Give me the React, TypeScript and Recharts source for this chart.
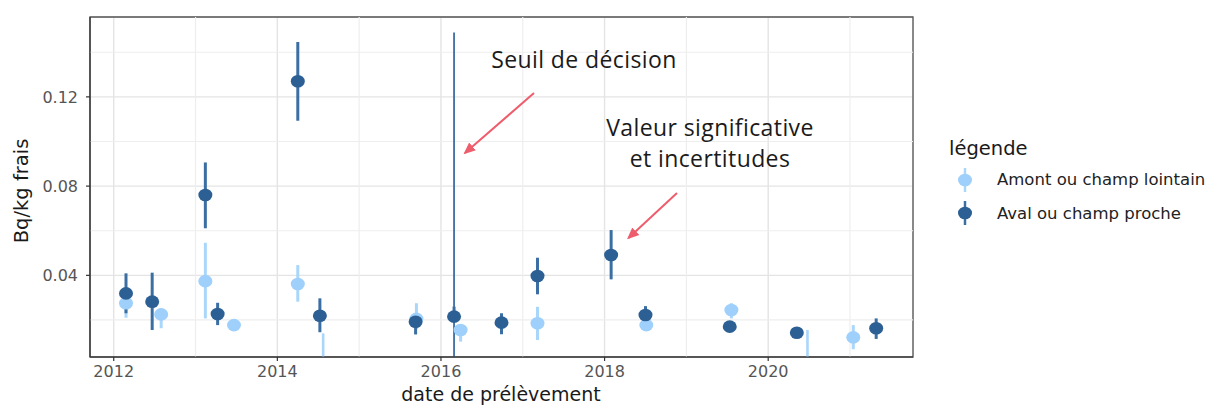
import React from 'react'
import {
  ComposedChart,
  Scatter,
  ErrorBar,
  XAxis,
  YAxis,
  CartesianGrid,
  ReferenceLine,
  ReferenceArea,
  Legend,
} from 'recharts'

// Amont ou champ lointain (valeurs significatives)
const amontDates = [2012.15, 2012.58, 2013.12, 2013.47, 2014.25, 2015.7, 2016.24, 2017.18, 2018.51, 2019.55, 2021.04]
const amontValues = [0.0275, 0.0225, 0.0374, 0.0177, 0.0361, 0.0205, 0.0155, 0.0185, 0.0177, 0.0245, 0.0122]
const amontLow = [0.021, 0.0163, 0.0207, 0.0162, 0.0282, 0.016, 0.0103, 0.011, 0.0162, 0.0207, 0.0069]
const amontHigh = [0.0335, 0.0252, 0.0546, 0.019, 0.0446, 0.0275, 0.017, 0.0259, 0.0192, 0.0275, 0.0177]

// Aval ou champ proche (valeurs significatives)
const avalDates = [2012.15, 2012.47, 2013.12, 2013.27, 2014.25, 2014.52, 2015.69, 2016.16, 2016.74, 2017.18, 2018.08, 2018.5, 2019.53, 2020.35, 2021.32]
const avalValues = [0.0319, 0.0282, 0.076, 0.0227, 0.127, 0.0219, 0.0192, 0.0215, 0.0188, 0.0397, 0.0491, 0.0222, 0.017, 0.0143, 0.0163]
const avalLow = [0.023, 0.0155, 0.0611, 0.0177, 0.1093, 0.0145, 0.0135, 0.0195, 0.0136, 0.0315, 0.0382, 0.0195, 0.015, 0.013, 0.0115]
const avalHigh = [0.0409, 0.0412, 0.0906, 0.0277, 0.1446, 0.0297, 0.0225, 0.026, 0.023, 0.0479, 0.0603, 0.0262, 0.019, 0.016, 0.0207]

// seuils de décision (résultats non significatifs, trait de 0 au seuil)
const seuilAmontDates = [2014.56, 2020.48]
const seuilAmontValues = [0.014, 0.0155]
const seuilAvalDates = [2016.16]
const seuilAvalValues = [0.1488]

const xTicks = [2012, 2014, 2016, 2018, 2020]
const xMinor = [2013, 2015, 2017, 2019, 2021]
const yTicks = [0.04, 0.08, 0.12]
const yMinor = [0.02, 0.06, 0.1, 0.14]
const xDomain = [2011.71, 2021.77]
const yDomain = [0.0034, 0.1558]

const seriesNames = ['Amont ou champ lointain', 'Aval ou champ proche']

const lightBlue = '#9fd0fb'
const lightBlueBar = '#a9d6fb'
const darkBlue = '#2c5f93'
const darkBlueBar = '#3b6ea3'
const arrowRed = '#ee5d6c'
const sans = 'DejaVu Sans, sans-serif'

const toRows = (dates: number[], values: number[], low: number[], high: number[]) =>
  dates.map((d, i) => ({
    date: d,
    value: values[i],
    err: [values[i] - low[i], high[i] - values[i]],
  }))

const amontData = toRows(amontDates, amontValues, amontLow, amontHigh)
const avalData = toRows(avalDates, avalValues, avalLow, avalHigh)

const Dot = ({ cx, cy, fill }: any) => {
  if (cx == null || cy == null) return null
  return <ellipse cx={cx} cy={cy} rx={7} ry={6.3} fill={fill} />
}

const LegendBox = () => {
  const colors = [[lightBlue, lightBlueBar], [darkBlue, darkBlueBar]]
  return (
    <div style={{ fontFamily: sans, color: '#1a1a1a' }}>
      <div style={{ fontSize: 19.5, height: 28, lineHeight: '28px' }}>légende</div>
      {seriesNames.map((name, i) => (
        <div key={name} style={{ display: 'flex', alignItems: 'center', height: 33.4 }}>
          <svg width={34} height={30}>
            <line x1={16} x2={16} y1={3} y2={27} stroke={colors[i][1]} strokeWidth={2.5} />
            <ellipse cx={16} cy={15} rx={7} ry={6.3} fill={colors[i][0]} />
          </svg>
          <span style={{ fontSize: 16.5, marginLeft: 14, color: '#222', whiteSpace: 'nowrap' }}>{name}</span>
        </div>
      ))}
    </div>
  )
}

export default function App() {
  const tickStyle = { fill: '#555', fontSize: 16, fontFamily: sans }
  return (
    <div style={{ position: 'absolute', left: 0, top: 0, width: 1209, height: 405, background: '#fff' }}>
      <ComposedChart
        width={1209}
        height={405}
        margin={{ top: 17, right: 296, bottom: 8, left: 30 }}
      >
        <CartesianGrid stroke="#e4e4e4" strokeWidth={1.4} />
        {xMinor.map((x) => (
          <ReferenceLine key={`vx${x}`} x={x} stroke="#eeeeee" strokeWidth={1.2} />
        ))}
        {yMinor.map((y) => (
          <ReferenceLine key={`hy${y}`} y={y} stroke="#eeeeee" strokeWidth={1.2} />
        ))}
        <XAxis
          type="number"
          dataKey="date"
          domain={xDomain}
          ticks={xTicks}
          allowDataOverflow
          height={40}
          tick={tickStyle}
          tickSize={4}
          tickMargin={5}
          axisLine={{ stroke: '#333', strokeWidth: 1.2 }}
          tickLine={{ stroke: '#333', strokeWidth: 1.2 }}
        />
        <YAxis
          type="number"
          dataKey="value"
          domain={yDomain}
          ticks={yTicks}
          allowDataOverflow
          width={60}
          tick={tickStyle}
          tickSize={4}
          tickMargin={8}
          tickFormatter={(v: number) => v.toFixed(2)}
          axisLine={{ stroke: '#333', strokeWidth: 1.2 }}
          tickLine={{ stroke: '#333', strokeWidth: 1.2 }}
        />
        <ReferenceArea
          x1={xDomain[0]}
          x2={xDomain[1]}
          y1={yDomain[0]}
          y2={yDomain[1]}
          fill="none"
          fillOpacity={0}
          stroke="#555"
          strokeWidth={1.3}
        />
        {seuilAmontDates.map((d, i) => (
          <ReferenceLine
            key={`sa${d}`}
            segment={[{ x: d, y: 0 }, { x: d, y: seuilAmontValues[i] }]}
            stroke={lightBlueBar}
            strokeWidth={2.6}
            ifOverflow="hidden"
          />
        ))}
        <Scatter
          name={seriesNames[0]}
          data={amontData}
          shape={<Dot fill={lightBlue} />}
          isAnimationActive={false}
        >
          <ErrorBar dataKey="err" direction="y" width={0} stroke={lightBlueBar} strokeWidth={3} />
        </Scatter>
        <Scatter
          name={seriesNames[1]}
          data={avalData}
          shape={<Dot fill={darkBlue} />}
          isAnimationActive={false}
        >
          <ErrorBar dataKey="err" direction="y" width={0} stroke={darkBlueBar} strokeWidth={3} />
        </Scatter>
        {seuilAvalDates.map((d, i) => (
          <ReferenceLine
            key={`sv${d}`}
            segment={[{ x: d, y: 0 }, { x: d, y: seuilAvalValues[i] }]}
            stroke={darkBlueBar}
            strokeWidth={1.8}
            ifOverflow="hidden"
          />
        ))}
        <Legend
          layout="horizontal"
          align="center"
          verticalAlign="middle"
          content={<LegendBox />}
          wrapperStyle={{ position: 'absolute', left: 949, top: 135, width: 260, height: 100 }}
        />
      </ComposedChart>
      <svg
        width={1209}
        height={405}
        style={{ position: 'absolute', left: 0, top: 0, pointerEvents: 'none' }}
      >
        <defs>
          <marker id="head" markerWidth="6" markerHeight="6" refX="5" refY="3" orient="auto" markerUnits="strokeWidth">
            <path d="M0,0.4 L6,3 L0,5.6 Z" fill={arrowRed} />
          </marker>
        </defs>
        <g fontFamily="Open Sans, sans-serif" fill="#1a1a1a" fontSize={23} letterSpacing={0.4} textAnchor="middle">
          <text x={584} y={68}>Seuil de décision</text>
          <text x={710} y={136}>Valeur significative</text>
          <text x={710} y={167}>et incertitudes</text>
        </g>
        <line x1={534} y1={93} x2={465} y2={153} stroke={arrowRed} strokeWidth={2} markerEnd="url(#head)" />
        <line x1={677} y1={193} x2={628.5} y2={238} stroke={arrowRed} strokeWidth={2} markerEnd="url(#head)" />
        <text
          x={21}
          y={191}
          transform="rotate(-90 21 191)"
          textAnchor="middle"
          dominantBaseline="central"
          fontFamily={sans}
          fontSize={19.5}
          fill="#1a1a1a"
        >
          Bq/kg frais
        </text>
        <text
          x={501}
          y={400.5}
          textAnchor="middle"
          fontFamily={sans}
          fontSize={19}
          fill="#1a1a1a"
        >
          date de prélèvement
        </text>
      </svg>
    </div>
  )
}
